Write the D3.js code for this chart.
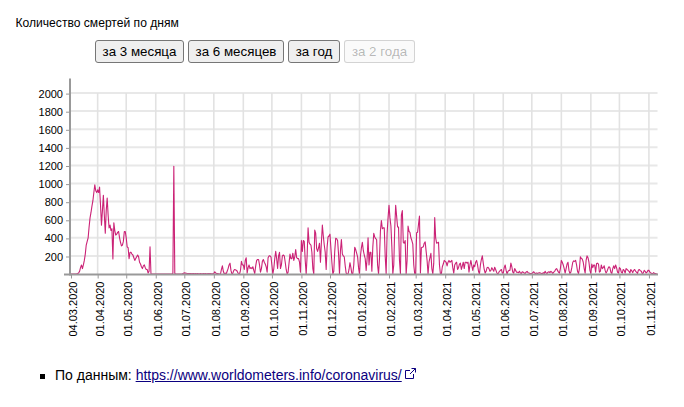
<!DOCTYPE html>
<html><head><meta charset="utf-8">
<script src="https://cdn.jsdelivr.net/npm/d3@7"></script>
<style>
html,body{margin:0;padding:0;background:#fff;font-family:"Liberation Sans",Arial,sans-serif;color:#000}
body{width:684px;height:407px;overflow:hidden;position:relative}
#title{position:absolute;left:15.5px;top:16px;font-size:12.1px;line-height:15px}
button{position:absolute;top:40px;height:23px;padding:0;font:13.33px "Liberation Sans",Arial,sans-serif;background:#efefef;border:1px solid #767676;border-radius:3px;color:#000}
button:disabled{color:rgba(16,16,16,.3);background:rgba(239,239,239,.3);border-color:rgba(118,118,118,.3)}
svg#chart{position:absolute;left:0;top:0}
#bullet{position:absolute;left:40px;top:374px;width:5px;height:5px;background:#000}
#src{position:absolute;left:55px;top:367px;font-size:14px;line-height:17px;white-space:nowrap}
#src a{color:#0b0080;text-decoration:underline}
#src svg{vertical-align:1px;margin-left:3px}
</style></head><body>
<div id="title">Количество смертей по дням</div>
<div id="buttons"></div>
<svg id="chart" width="684" height="407"></svg>
<div id="bullet"></div>
<div id="src">По данным: <a href="#">https://www.worldometers.info/coronavirus/</a><svg width="11" height="11" viewBox="0 0 11 11" fill="none" stroke="#0b0080" stroke-width="1"><path d="M8.5 6v4.5h-8v-8H5"/><path d="M6.5 .5h4v4M10.5 .5L5 6"/></svg></div>
<script>
const titleButtons = ["за 3 месяца","за 6 месяцев","за год","за 2 года"];
const yTicks = [200,400,600,800,1000,1200,1400,1600,1800,2000];
const xTickLabels = ["04.03.2020","01.04.2020","01.05.2020","01.06.2020","01.07.2020","01.08.2020","01.09.2020","01.10.2020","01.11.2020","01.12.2020","01.01.2021","01.02.2021","01.03.2021","01.04.2021","01.05.2021","01.06.2021","01.07.2021","01.08.2021","01.09.2021","01.10.2021","01.11.2021"];
const mar20 = [0,0,0,0,0,0,2,5,10,30,70,100,60,100,150,220,320,360,400,520,620,680,750,810,900,985,920,900];
const apr20 = [930,900,960,760,540,700,870,650,450,700,840,650,510,540,480,500,165,565,480,430,440,460,470,400,350,310,320,360,470,470];
const may20 = [400,300,290,170,240,240,220,210,180,150,170,190,210,190,130,110,80,60,90,100,70,50,50,10,30,300,0,0,0,0,0];
const jun20 = [0,0,0,0,0,0,0,0,0,0,0,0,0,0,0,0,0,0,5,1190,5,0,0,0,0,0,0,0,3,8];
const jul20 = [12,10,8,5,5,5,5,5,3,5,5,3,5,3,5,3,3,5,3,3,5,3,5,3,3,5,3,5,3,3,3];
const aug20 = [5,25,10,5,5,3,0,0,50,90,30,0,10,0,30,60,100,120,40,0,10,40,50,45,40,20,0,0,40,140,100];
const sep20 = [100,50,150,180,10,70,100,60,70,60,80,40,5,90,150,160,160,100,20,60,140,160,130,110,80,20,180,200,200,190];
const oct20 = [100,0,60,170,250,170,60,200,240,60,100,200,210,200,130,50,0,20,120,220,170,170,230,150,190,270,180,170,170,130,20];
const nov20 = [370,250,370,360,150,0,200,510,350,330,320,240,60,0,485,450,280,250,290,340,130,350,540,420,320,240,50,300,410,420];
const dec20 = [440,280,130,0,30,250,395,390,370,220,0,260,380,220,200,190,90,10,0,0,50,125,70,0,5,100,295,270,230,190,70];
const jan21 = [0,200,290,350,260,210,170,40,170,400,100,240,240,30,300,450,410,390,380,100,0,170,480,590,500,510,510,200,0,450,620];
const feb21 = [760,620,530,300,0,100,500,760,640,520,520,150,0,650,700,350,340,370,0,150,530,470,460,400,370,330,100,0];
const mar21 = [0,455,460,550,640,10,290,295,300,340,355,250,150,0,130,180,228,60,0,120,625,400,340,345,350,100,0,0,80,110,150];
const apr21 = [140,130,90,130,150,130,140,150,70,10,100,120,130,50,70,110,120,50,90,130,60,130,130,120,130,20,100,150,90,40];
const may21 = [100,80,130,150,100,30,0,100,160,200,120,50,10,30,70,75,60,30,40,70,50,30,75,50,20,0,10,30,40,50,10];
const jun21 = [10,70,100,40,0,30,40,40,120,80,20,10,60,40,20,20,15,30,10,5,25,20,10,5,20,30,15,10,5,5];
const jul21 = [5,15,25,10,5,10,5,10,15,10,5,5,15,5,30,10,5,20,25,15,30,20,5,20,30,50,60,40,20,10,60];
const aug21 = [150,130,100,60,10,60,110,130,40,5,20,70,130,145,140,150,100,30,5,60,190,170,165,130,60,10,150,200,180,130,40];
const sep21 = [5,110,70,100,100,20,115,120,110,20,30,100,60,70,90,40,10,30,60,80,70,20,5,60,90,60,100,70,20,10];
const oct21 = [70,60,20,10,50,40,10,60,50,40,30,10,50,35,15,40,50,30,20,5,45,50,35,30,5,10,40,30,10,20,40];
const nov21 = [40,20,10,5,5,15,5,5,0,0];
const monthly = [mar20,apr20,may20,jun20,jul20,aug20,sep20,oct20,nov20,dec20,jan21,feb21,mar21,apr21,may21,jun21,jul21,aug21,sep21,oct21,nov21];

const parse = d3.utcParse("%d.%m.%Y");
const xTicks = xTickLabels.map(parse);
const rows = monthly.flatMap((vals,m)=>vals.map((v,i)=>({date:d3.utcDay.offset(xTicks[m],i),value:v})));

const btnBox = [[95,89],[188,96],[288,52],[344,71]];
d3.select("#buttons").selectAll("button").data(titleButtons).join("button")
  .text(d=>d).style("left",(d,i)=>btnBox[i][0]+"px").style("width",(d,i)=>btnBox[i][1]+"px")
  .property("disabled",(d,i)=>i===3);

const x = d3.scaleUtc().domain([parse("04.03.2020"),parse("10.11.2021")]).range([71,657.5]);
const y = d3.scaleLinear().domain([0,2000]).range([274,93]);
const svg = d3.select("#chart");
const fmt = d3.utcFormat("%d.%m.%Y");

svg.append("g").selectAll("line").data(yTicks).join("line")
  .attr("x1",70).attr("x2",657.5).attr("y1",d=>y(d)).attr("y2",d=>y(d))
  .attr("stroke","#e8e8e8").attr("stroke-width",2);
svg.append("g").selectAll("line").data(xTicks.slice(1)).join("line")
  .attr("x1",d=>x(d)).attr("x2",d=>x(d)).attr("y1",93).attr("y2",274)
  .attr("stroke","#e2e2e2").attr("stroke-width",1.6);

const line = d3.line().x(d=>x(d.date)).y(d=>y(d.value));
svg.append("path").datum(rows).attr("d",line).attr("fill","none")
  .attr("stroke","#c8166f").attr("stroke-width",1.1).attr("stroke-linejoin","round").attr("stroke-opacity",.95);

const gx = svg.append("g").attr("transform","translate(0,274.5)")
  .call(d3.axisBottom(x).tickValues(xTicks).tickFormat(fmt).tickSize(4).tickPadding(0));
gx.select(".domain").attr("d","M64,0H658").attr("stroke","#999").attr("stroke-width",2);
gx.selectAll(".tick line").attr("stroke","#999");
gx.selectAll(".tick text").attr("transform","rotate(-90)").attr("text-anchor","end")
  .attr("x",-7).attr("y",2).attr("dy",".32em").attr("dx",0)
  .style("font","11px 'Liberation Sans',Arial,sans-serif").attr("fill","#000");

const gy = svg.append("g").attr("transform","translate(70,0.6)")
  .call(d3.axisLeft(y).tickValues(yTicks).tickSize(4).tickPadding(3).tickFormat(d3.format("d")));
gy.select(".domain").attr("d","M0,78V275").attr("stroke","#999").attr("stroke-width",2);
gy.selectAll(".tick line").attr("stroke","#999");
gy.selectAll(".tick text").style("font","11px 'Liberation Sans',Arial,sans-serif").attr("fill","#000");
</script>
</body></html>
